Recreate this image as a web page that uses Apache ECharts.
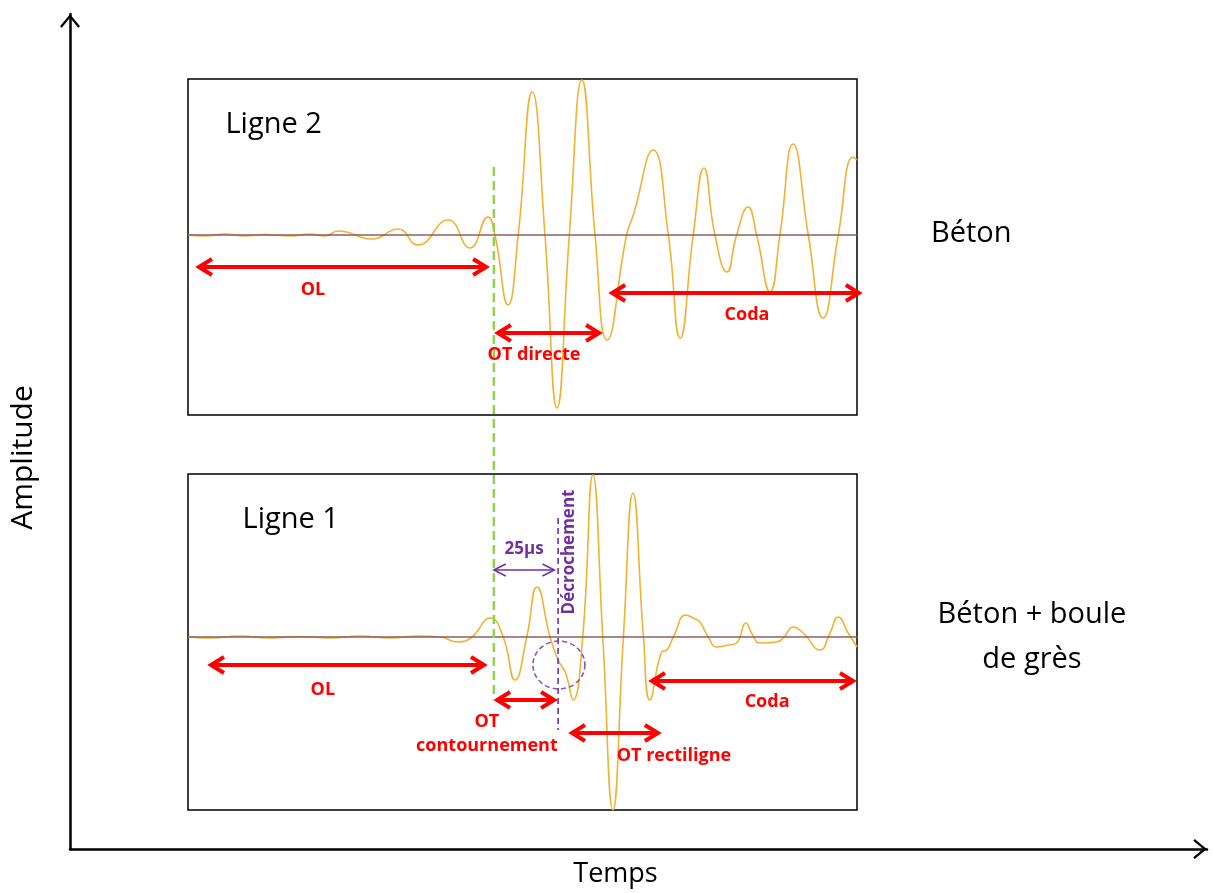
<!DOCTYPE html>
<html>
<head>
<meta charset="utf-8">
<script src="https://cdn.jsdelivr.net/npm/echarts@6/dist/echarts.min.js"></script>
<style>
html,body{margin:0;padding:0;background:#fff;}
#chart{width:1213px;height:893px;}
</style>
</head>
<body>
<div id="chart"></div>
<script>
// ---------------- DATA ----------------
// Ligne 2 (Béton) : time (µs) / amplitude (a.u.)
const ligne2Time = [0, 6.4, 13.8, 21.3, 28.8, 38.1, 45.6, 51.2, 56.1, 68.8, 78.5, 85.9, 97.2, 105.4, 112.1, 114.7, 119.6, 123.4, 128.6, 133.4, 137.9, 142.5, 147.2, 152.1, 156.6, 163.9, 166.4, 173.8, 179.5, 183.9, 188.8, 192.8, 196.9, 201.4, 205.0, 209.3, 212.5, 217.5, 221.2, 226.1, 231.8, 237.3, 243.0, 248.5, 250];
const ligne2Amp  = [0, -0.01, 0.01, -0.01, 0.005, -0.01, 0.01, -0.01, 0.04, -0.04, 0.06, -0.10, 0.15, -0.13, 0.18, 0, -0.70, 0, 1.43, 0, -1.73, 0, 1.55, 0, -1.05, 0, 0.20, 0.85, 0, -1.03, 0, 0.67, 0, -0.37, 0, 0.28, 0, -0.57, 0, 0.91, 0, -0.83, 0, 0.78, 0.75];

// Ligne 1 (Béton + boule de grès)
const ligne1Time = [0, 8.2, 19.4, 30.6, 41.9, 53.1, 64.3, 75.5, 86.7, 94.2, 100.9, 106.1, 112.9, 117.8, 122.2, 126.6, 130.4, 135.3, 138.3, 141.1, 143.9, 147.5, 151.3, 155.0, 158.8, 162.7, 166.3, 170.2, 172.6, 177.0, 178.9, 181.4, 186.1, 188.8, 191.3, 194.4, 197.6, 201.9, 205.0, 208.5, 210.6, 213.8, 220.0, 222.5, 226.2, 229.9, 236.2, 239.9, 243.0, 246.7, 250];
const ligne1Amp  = [0, -0.01, 0.01, -0.01, 0.005, -0.01, 0.01, -0.01, 0.01, 0, -0.05, 0, 0.19, 0, -0.43, 0, 0.50, 0, -0.23, -0.36, -0.63, 0, 1.62, 0, -1.73, 0, 1.44, 0, -0.63, -0.15, -0.13, 0, 0.22, 0.19, 0.15, 0, -0.10, -0.08, -0.06, 0.14, 0.04, -0.06, -0.05, -0.01, 0.10, 0.04, -0.13, 0.04, 0.20, 0.04, -0.10];

const timeRange = [0, 250];          // µs
const firstArrival = 114.3;          // green dashed line (µs)
const decrochementTime = 138.3;      // purple dashed line (µs)
const delayLabel = '25µs';

// wave-group intervals (µs): [label, start, end]
const ligne2Intervals = [['OL', 2.6, 112.9], ['OT directe', 114.3, 155.1], ['Coda', 157.0, 252.2]];
const ligne1Intervals = [['OL', 7.1, 112.1], ['OT\ncontournement', 114.0, 138.3], ['OT rectiligne', 142.0, 177.1], ['Coda', 171.9, 250]];

const panelNames = ['Ligne 2', 'Ligne 1'];
const materialNames = ['Béton', 'Béton + boule\nde grès'];

// ---------------- LAYOUT ----------------
const RED = '#FF0000', PURPLE = '#7030A0', GREEN = '#92D050', WAVE = '#F0B232', ZERO = '#8E5E5E';
const FONT = '"Open Sans", "Noto Sans", sans-serif';

// vertical levels (amplitude units) for the arrows of each interval
const ligne2Levels = [-0.32, -0.98, -0.58];
const ligne1Levels = [-0.28, -0.63, -0.96, -0.44];

function zip(t, a) { return t.map((v, i) => [v, a[i]]); }

function arrowRender(color, width, hl, hw, tipInset) {
  return function (params, api) {
    const p1 = api.coord([api.value(0), api.value(2)]);
    const p2 = api.coord([api.value(1), api.value(2)]);
    const style = { stroke: color, lineWidth: width, fill: null, lineJoin: 'miter', lineCap: 'butt' };
    const a = p1[0] + tipInset, b = p2[0] - tipInset, y = p1[1];
    return {
      type: 'group',
      children: [
        { type: 'line', shape: { x1: a + 1, y1: y, x2: b - 1, y2: y }, style: style },
        { type: 'polyline', shape: { points: [[a + hl, y - hw], [a, y], [a + hl, y + hw]] }, style: style },
        { type: 'polyline', shape: { points: [[b - hl, y - hw], [b, y], [b - hl, y + hw]] }, style: style }
      ]
    };
  };
}

function arrowSeries(gridIdx, intervals, levels) {
  return {
    type: 'custom', xAxisIndex: gridIdx, yAxisIndex: gridIdx, silent: true, z: 6,
    renderItem: arrowRender(RED, 4, 13, 8, 4),
    data: intervals.map((iv, i) => [iv[1], iv[2], levels[i]])
  };
}

function noteSeries(gridIdx, notes, labelStyle) {
  return {
    type: 'scatter', xAxisIndex: gridIdx, yAxisIndex: gridIdx, silent: true, z: 8,
    symbolSize: 1, itemStyle: { color: 'rgba(0,0,0,0)' },
    label: Object.assign({ show: true, position: 'inside', formatter: '{b}', fontFamily: FONT, textBorderWidth: 0, opacity: 1, align: 'center' }, labelStyle),
    labelLayout: { hideOverlap: false },
    data: notes.map(n => ({ name: n[0], value: [n[1], n[2]] }))
  };
}

const redBold = { color: RED, fontWeight: 'bold', fontSize: 18, lineHeight: 24 };

const ligne2Notes = [
  [ligne2Intervals[0][0], 46.7, -0.55],
  [ligne2Intervals[1][0], 129.3, -1.20],
  [ligne2Intervals[2][0], 208.9, -0.80]
];
const ligne1Notes = [
  [ligne1Intervals[0][0], 50.4, -0.53],
  [ligne1Intervals[1][0], 111.7, -0.97],
  [ligne1Intervals[2][0], 181.6, -1.19],
  [ligne1Intervals[3][0], 216.4, -0.65]
];

const hiddenX = (g) => ({ gridIndex: g, type: 'value', min: timeRange[0], max: timeRange[1], show: false });
const chevron = 'path://M10,0 L20,12 L18.2,13.5 L10,3.6 L1.8,13.5 L0,12 Z';

const option = {
  animation: false,
  backgroundColor: '#ffffff',
  grid: [
    { left: 188, top: 79, width: 669, height: 336, show: true, borderColor: '#000', borderWidth: 1.5, backgroundColor: 'transparent' },
    { left: 188, top: 474, width: 669, height: 336, show: true, borderColor: '#000', borderWidth: 1.5, backgroundColor: 'transparent' },
    { left: 188, top: 79, width: 669, height: 731, show: false },
    { left: 68, top: 14, right: 6, bottom: 41, show: false }
  ],
  xAxis: [
    hiddenX(0), hiddenX(1), hiddenX(2),
    {
      gridIndex: 3, type: 'value', min: 0, max: 1,
      name: 'Temps', nameLocation: 'middle', nameGap: 12,
      nameTextStyle: { fontFamily: FONT, fontSize: 27, color: '#000', padding: [0, 46, 0, 0], verticalAlign: 'top' },
      axisLine: { show: true, onZero: false, symbol: ['none', chevron], symbolSize: [20, 14], symbolOffset: [0, -7], lineStyle: { color: '#000', width: 2.5 } },
      axisTick: { show: false }, axisLabel: { show: false }, splitLine: { show: false }
    }
  ],
  yAxis: [
    { gridIndex: 0, type: 'value', min: -1.80, max: 1.56, show: false },
    { gridIndex: 1, type: 'value', min: -1.73, max: 1.63, show: false },
    { gridIndex: 2, type: 'value', min: -5.75, max: 1.56, show: false },
    {
      gridIndex: 3, type: 'value', min: 0, max: 1,
      name: 'Amplitude', nameLocation: 'middle', nameGap: 32,
      nameTextStyle: { fontFamily: FONT, fontSize: 30, color: '#000', padding: [0, 52, 0, 0] },
      axisLine: { show: true, onZero: false, symbol: ['none', chevron], symbolSize: [20, 14], symbolOffset: [0, -7], lineStyle: { color: '#000', width: 2.5 } },
      axisTick: { show: false }, axisLabel: { show: false }, splitLine: { show: false }
    }
  ],
  graphic: [
    { type: 'text', x: 931, y: 234, silent: true, style: { text: materialNames[0], fontFamily: FONT, fontSize: 29, fill: '#000', align: 'left', verticalAlign: 'middle' } },
    { type: 'text', x: 1032, y: 637, silent: true, style: { text: materialNames[1], fontFamily: FONT, fontSize: 29, lineHeight: 45, fill: '#000', align: 'center', verticalAlign: 'middle' } }
  ],
  series: [
    // waveforms
    { name: panelNames[0], type: 'line', xAxisIndex: 0, yAxisIndex: 0, data: zip(ligne2Time, ligne2Amp), smooth: 0.5, showSymbol: false, lineStyle: { color: WAVE, width: 1.6 }, z: 2 },
    { name: panelNames[1], type: 'line', xAxisIndex: 1, yAxisIndex: 1, data: zip(ligne1Time, ligne1Amp), smooth: 0.5, showSymbol: false, lineStyle: { color: WAVE, width: 1.6 }, z: 2 },
    // zero lines
    { type: 'line', xAxisIndex: 0, yAxisIndex: 0, data: [[timeRange[0], 0], [timeRange[1], 0]], showSymbol: false, silent: true, lineStyle: { color: ZERO, width: 1.6 }, z: 3 },
    { type: 'line', xAxisIndex: 1, yAxisIndex: 1, data: [[timeRange[0], 0], [timeRange[1], 0]], showSymbol: false, silent: true, lineStyle: { color: ZERO, width: 1.6 }, z: 3 },
    // red interval arrows
    arrowSeries(0, ligne2Intervals, ligne2Levels),
    arrowSeries(1, ligne1Intervals, ligne1Levels),
    // 25 µs purple arrow
    {
      type: 'custom', xAxisIndex: 1, yAxisIndex: 1, silent: true, z: 6,
      renderItem: arrowRender(PURPLE, 1.5, 12, 6, 1.5),
      data: [[firstArrival - 0.6, decrochementTime - 0.8, 0.67]]
    },
    // décrochement dashed line
    { type: 'line', xAxisIndex: 1, yAxisIndex: 1, data: [[decrochementTime, 1.19], [decrochementTime, -0.93]], showSymbol: false, silent: true, lineStyle: { color: PURPLE, width: 1.6, type: [6, 4] }, z: 5 },
    // décrochement circle
    { type: 'scatter', xAxisIndex: 1, yAxisIndex: 1, silent: true, z: 5, symbol: 'circle', symbolSize: [52, 48], data: [[decrochementTime + 0.3, -0.28]], itemStyle: { color: 'rgba(0,0,0,0)', borderColor: PURPLE, borderWidth: 1.6, borderType: [5, 3] } },
    // first arrival green dashed line across both panels
    { type: 'line', xAxisIndex: 2, yAxisIndex: 2, data: [[firstArrival, 0.68], [firstArrival, -4.65]], showSymbol: false, silent: true, lineStyle: { color: GREEN, width: 2.5, type: [9, 5] }, z: 7 },
    // texts
    noteSeries(0, ligne2Notes, redBold),
    noteSeries(1, ligne1Notes, redBold),
    noteSeries(1, [[delayLabel, 125.6, 0.88]], { color: PURPLE, fontWeight: 'bold', fontSize: 17 }),
    noteSeries(1, [['Décrochement', 142.4, 0.85]], { color: PURPLE, fontWeight: 'bold', fontSize: 17, rotate: 90 }),
    noteSeries(0, [[panelNames[0], 13.8, 1.10]], { color: '#000', fontSize: 29, position: 'right', distance: 0, align: 'left' }),
    noteSeries(1, [[panelNames[1], 20.2, 1.17]], { color: '#000', fontSize: 29, position: 'right', distance: 0, align: 'left' })
  ]
};

const chart = echarts.init(document.getElementById('chart'), null, { renderer: 'canvas' });
chart.setOption(option);
</script>
</body>
</html>
